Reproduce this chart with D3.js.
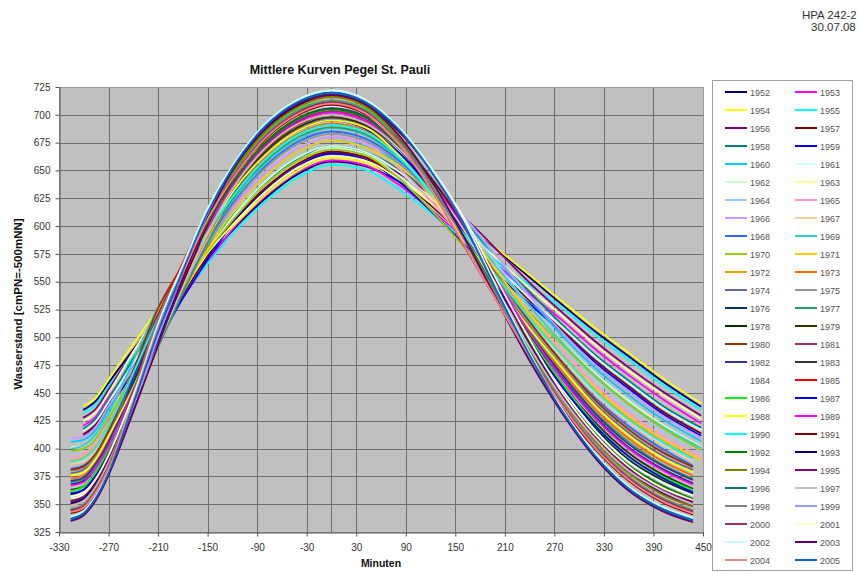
<!DOCTYPE html>
<html><head><meta charset="utf-8">
<script src="https://cdn.jsdelivr.net/npm/d3@7"></script>
<style>
html,body{margin:0;padding:0;background:#fff;}
svg{display:block;font-family:"Liberation Sans",Arial,sans-serif;}
</style></head>
<body>
<svg id="chart" width="858" height="572"></svg>
<script>
// ---- data ----
const minutes = [-315,-300,-285,-270,-240,-210,-180,-150,-120,-80,-40,0,40,80,120,160,200,240,280,320,360,400,437,447];
const xTicks = [-330,-270,-210,-150,-90,-30,30,90,150,210,270,330,390,450];
const yTicks = [325,350,375,400,425,450,475,500,525,550,575,600,625,650,675,700,725];
const years = [1952,1953,1954,1955,1956,1957,1958,1959,1960,1961,1962,1963,1964,1965,1966,1967,1968,1969,1970,1971,1972,1973,1974,1975,1976,1977,1978,1979,1980,1981,1982,1983,1984,1985,1986,1987,1988,1989,1990,1991,1992,1993,1994,1995,1996,1997,1998,1999,2000,2001,2002,2003,2004,2005];
const colors = ["#000080","#FF00FF","#FFFF00","#00FFFF","#800080","#800000","#008080","#0000FF","#00CCFF","#CCFFFF","#CCFFCC","#FFFF99","#99CCFF","#FF99CC","#CC99FF","#FFCC99","#3366FF","#33CCCC","#99CC00","#FFCC00","#FF9900","#FF6600","#666699","#969696","#003366","#339966","#003300","#333300","#993300","#993366","#333399","#333333","#FFFFFF","#FF0000","#00FF00","#0000FF","#FFFF00","#FF00FF","#00FFFF","#800000","#008000","#000080","#808000","#800080","#008080","#C0C0C0","#808080","#9999FF","#993366","#FFFFCC","#CCFFFF","#660066","#FF8080","#0066CC"];
// water level [cmPN] per year at the minutes above (null = no value)
const levels = [
/*1952*/[null,435,443,459,489,518,545,571,596,625,647,658,654,641,623,604,579,554,529,505,483,461,null,438],
/*1953*/[null,421,429,446,475,502,536,567,597,627,649,659,655,638,615,589,565,539,515,489,466,445,null,423],
/*1954*/[null,438,446,462,494,525,551,575,599,628,650,661,657,643,624,604,580,556,532,508,486,464,null,441],
/*1955*/[null,432,440,456,482,508,538,566,593,622,644,655,651,634,612,589,568,547,526,502,480,458,null,435],
/*1956*/[null,428,436,453,488,521,551,578,604,634,656,666,662,648,629,608,579,549,522,496,473,452,null,430],
/*1957*/[null,413,422,439,470,501,538,573,604,634,656,667,662,644,619,591,562,533,506,479,456,434,null,414],
/*1958*/[null,418,427,444,481,517,550,581,609,639,661,672,667,652,629,604,572,541,511,484,461,439,null,419],
/*1959*/[null,411,420,437,467,497,535,570,602,632,654,665,660,641,614,584,557,530,504,477,454,432,null,412],
/*1960*/[406,408,417,435,476,517,552,585,613,645,667,677,672,657,634,608,571,535,501,472,448,427,null,407],
/*1961*/[null,416,425,442,477,512,546,578,607,637,659,670,665,646,621,592,564,535,509,482,459,437,null,417],
/*1962*/[401,403,412,430,465,502,541,576,608,640,662,672,667,650,625,596,562,528,496,467,443,422,null,402],
/*1963*/[null,425,433,450,487,522,550,576,601,631,653,663,659,643,621,597,571,544,519,493,470,449,null,427],
/*1964*/[397,400,410,428,468,509,550,588,620,653,675,685,679,662,636,605,566,528,492,462,437,417,null,398],
/*1965*/[392,395,405,423,469,515,552,586,615,648,670,680,674,653,623,588,553,519,487,457,432,412,null,393],
/*1966*/[409,411,420,438,472,507,547,584,616,648,670,680,675,659,636,609,573,537,504,475,451,430,null,410],
/*1967*/[386,389,399,418,465,513,554,592,624,658,680,689,683,660,627,587,551,514,481,449,424,404,389,null],
/*1968*/[382,385,395,414,454,496,542,584,620,654,676,685,679,660,631,597,555,514,477,445,420,400,385,null],
/*1969*/[400,403,413,431,479,527,562,596,623,656,678,688,682,662,633,599,563,528,495,465,440,420,null,401],
/*1970*/[398,400,409,427,468,510,545,577,605,637,659,669,664,644,615,582,552,522,493,464,440,419,null,399],
/*1971*/[389,392,402,420,459,498,540,579,612,645,667,677,671,655,630,601,560,521,484,454,429,409,null,390],
/*1972*/[389,392,402,421,470,521,560,596,627,661,683,692,686,664,633,595,557,518,484,452,427,407,392,null],
/*1973*/[373,376,388,408,454,502,548,591,627,661,683,692,686,666,636,600,554,509,469,435,409,389,376,null],
/*1974*/[378,381,393,413,466,521,561,600,632,666,688,697,691,667,632,591,550,510,474,440,414,394,381,null],
/*1975*/[380,383,393,412,453,496,541,583,618,652,674,683,677,658,629,594,553,512,475,443,418,398,383,null],
/*1976*/[368,371,384,403,459,515,560,603,637,672,694,703,696,671,635,592,547,502,463,428,401,382,369,null],
/*1977*/[370,373,385,405,447,491,540,585,624,658,680,689,683,663,634,599,552,506,466,432,406,386,373,null],
/*1978*/[359,363,376,397,454,513,561,607,643,680,702,710,703,678,641,595,546,498,455,418,390,372,360,null],
/*1979*/[363,366,379,398,448,498,547,594,632,667,689,698,691,671,640,603,552,502,458,423,396,377,364,null],
/*1980*/[381,384,396,416,470,526,565,604,635,669,691,700,694,671,638,599,556,514,477,443,417,397,384,null],
/*1981*/[352,356,369,390,441,494,547,597,636,673,695,703,696,674,640,598,545,494,448,411,383,365,353,null],
/*1982*/[371,374,387,406,463,520,564,606,640,675,697,706,699,673,636,591,548,504,466,431,404,385,372,null],
/*1983*/[345,349,363,384,440,500,554,605,644,681,703,712,704,680,643,598,542,488,440,402,374,355,344,null],
/*1984*/[357,361,374,395,453,513,561,606,641,678,700,708,701,675,637,591,542,495,453,416,388,370,358,null],
/*1985*/[350,354,368,389,452,519,567,614,649,686,708,717,709,686,651,607,550,494,445,407,379,360,349,null],
/*1986*/[362,366,379,400,450,502,556,606,646,683,705,713,706,680,643,597,548,500,458,421,393,375,363,null],
/*1987*/[360,363,376,395,450,504,550,594,629,664,686,695,688,667,635,596,547,498,455,420,393,374,361,null],
/*1988*/[376,379,391,411,455,501,548,593,630,664,686,695,689,665,630,589,548,508,472,438,412,392,379,null],
/*1989*/[367,370,383,402,453,505,553,599,636,671,693,702,695,673,640,600,552,504,462,427,400,381,368,null],
/*1990*/[388,391,401,420,468,517,557,595,626,660,682,691,685,663,631,593,555,517,483,451,426,406,391,null],
/*1991*/[342,346,360,381,435,493,548,601,641,678,700,709,701,679,644,601,543,487,437,399,371,352,341,null],
/*1992*/[354,358,371,392,451,512,559,603,638,675,697,705,698,673,636,591,541,493,450,413,385,367,355,null],
/*1993*/[351,355,369,390,442,498,555,608,650,687,709,718,710,687,651,606,550,495,446,408,380,361,350,null],
/*1994*/[349,353,367,388,449,514,564,612,648,685,707,716,708,681,640,590,539,489,444,406,378,359,348,null],
/*1995*/[353,357,371,392,448,509,562,613,652,689,711,720,712,688,651,605,550,496,448,410,382,363,352,null],
/*1996*/[336,341,355,377,443,512,564,613,651,689,711,719,711,683,642,590,534,479,432,392,363,345,335,null],
/*1997*/[349,353,366,387,439,493,545,594,633,670,692,700,693,671,638,597,543,491,445,408,380,362,350,null],
/*1998*/[346,350,364,385,449,517,564,611,645,682,704,713,705,678,638,589,537,486,441,403,375,356,345,null],
/*1999*/[338,343,357,379,438,500,557,611,653,691,713,721,713,689,650,602,542,485,434,394,365,347,337,null],
/*2000*/[344,348,362,383,443,506,557,606,643,680,702,711,703,675,634,583,533,483,439,401,373,354,343,null],
/*2001*/[355,359,373,394,448,506,561,614,654,691,713,722,714,690,653,608,552,498,450,412,384,365,354,null],
/*2002*/[339,344,358,380,445,512,565,616,654,692,714,722,714,690,653,606,545,486,435,395,366,348,338,null],
/*2003*/[335,340,354,376,433,493,552,607,650,688,710,718,710,683,642,591,534,479,431,391,362,344,334,null],
/*2004*/[343,347,361,382,443,508,558,606,642,679,701,710,702,675,634,584,533,483,438,400,372,353,342,null],
/*2005*/[337,342,356,378,440,505,560,612,652,690,712,720,712,688,650,602,542,484,433,393,364,346,336,null]
];

// ---- layout ----
const svg = d3.select("#chart");
const plot = {left:59, right:703, top:87, bottom:532};
const x = d3.scaleLinear().domain([-330,450]).range([plot.left, plot.right]);
const y = d3.scaleLinear().domain([325,725]).range([plot.bottom, plot.top]);
const fmt = d => String(d);

// header text
svg.append("text").attr("x",802).attr("y",19)
  .attr("font-size",11.5).attr("fill","#333").text("HPA 242-2");
svg.append("text").attr("x",811).attr("y",31)
  .attr("font-size",11.5).attr("fill","#333").text("30.07.08");

// title
svg.append("text").attr("x",340).attr("y",74).attr("text-anchor","middle")
  .attr("font-size",12.5).attr("font-weight","bold").attr("fill","#111")
  .text("Mittlere Kurven Pegel St. Pauli");

// plot background
svg.append("rect").attr("x",plot.left).attr("y",plot.top)
  .attr("width",plot.right-plot.left).attr("height",plot.bottom-plot.top)
  .attr("fill","#c0c0c0");

// gridlines
const grid = svg.append("g").attr("stroke","#6e6e6e").attr("stroke-width",1);
grid.selectAll("line.h").data(yTicks).join("line")
  .attr("x1",plot.left).attr("x2",plot.right)
  .attr("y1",d=>Math.round(y(d))+0.5).attr("y2",d=>Math.round(y(d))+0.5);
grid.selectAll("line.v").data(xTicks.concat([0])).join("line")
  .attr("y1",plot.top).attr("y2",plot.bottom)
  .attr("x1",d=>Math.round(x(d))+0.5).attr("x2",d=>Math.round(x(d))+0.5);
svg.append("rect").attr("x",plot.left+0.5).attr("y",plot.top+0.5)
  .attr("width",plot.right-plot.left).attr("height",plot.bottom-plot.top)
  .attr("fill","none").attr("stroke","#9a9a9a");

// curves
const line = d3.line()
  .x(d=>x(d[0])).y(d=>y(d[1]))
  .curve(d3.curveMonotoneX);
const curves = svg.append("g").attr("fill","none").attr("stroke-width",1.8)
  .attr("stroke-linejoin","round").attr("stroke-linecap","round");
years.forEach((yr,i)=>{
  const pts = minutes.map((m,j)=>[m, levels[i][j]]).filter(p=>p[1]!==null);
  curves.append("path").attr("d", line(pts)).attr("stroke", colors[i]);
});

// axes
const xAxis = svg.append("g").attr("transform",`translate(0,${plot.bottom+0.5})`)
  .call(d3.axisBottom(x).tickValues(xTicks).tickSize(4).tickSizeOuter(0).tickFormat(fmt));
const yAxis = svg.append("g").attr("transform",`translate(${plot.left+0.5},0)`)
  .call(d3.axisLeft(y).tickValues(yTicks).tickSize(4).tickSizeOuter(0).tickFormat(fmt));
[xAxis,yAxis].forEach(a=>{
  a.select(".domain").attr("stroke","#555");
  a.selectAll(".tick line").attr("stroke","#555");
  a.selectAll(".tick text").attr("font-size",10).attr("fill","#333")
    .attr("font-family","\"Liberation Sans\",Arial,sans-serif");
});
xAxis.selectAll(".tick text").attr("dy","0.95em").attr("y",9);
yAxis.selectAll(".tick text").attr("x",-9);

// axis titles
svg.append("text").attr("x",381).attr("y",567).attr("text-anchor","middle")
  .attr("font-size",10.5).attr("font-weight","bold").attr("fill","#111").text("Minuten");
svg.append("text").attr("transform","translate(22,304) rotate(-90)").attr("text-anchor","middle")
  .attr("font-size",11.5).attr("font-weight","bold").attr("fill","#111")
  .text("Wasserstand [cmPN=-500mNN]");

// legend
const lg = svg.append("g");
lg.append("rect").attr("x",712.5).attr("y",80.5).attr("width",140).attr("height",490)
  .attr("fill","#fff").attr("stroke","#a0a0a0");
years.forEach((yr,i)=>{
  const row = Math.floor(i/2), col = i%2;
  const yy = 92 + row*18;
  const x0 = col===0 ? 725 : 795;
  lg.append("line").attr("x1",x0).attr("x2",x0+22).attr("y1",yy).attr("y2",yy)
    .attr("stroke",colors[i]).attr("stroke-width",2);
  lg.append("text").attr("x",x0+25).attr("y",yy+3.5).attr("font-size",9)
    .attr("fill","#555").text(yr);
});
</script>
</body></html>
